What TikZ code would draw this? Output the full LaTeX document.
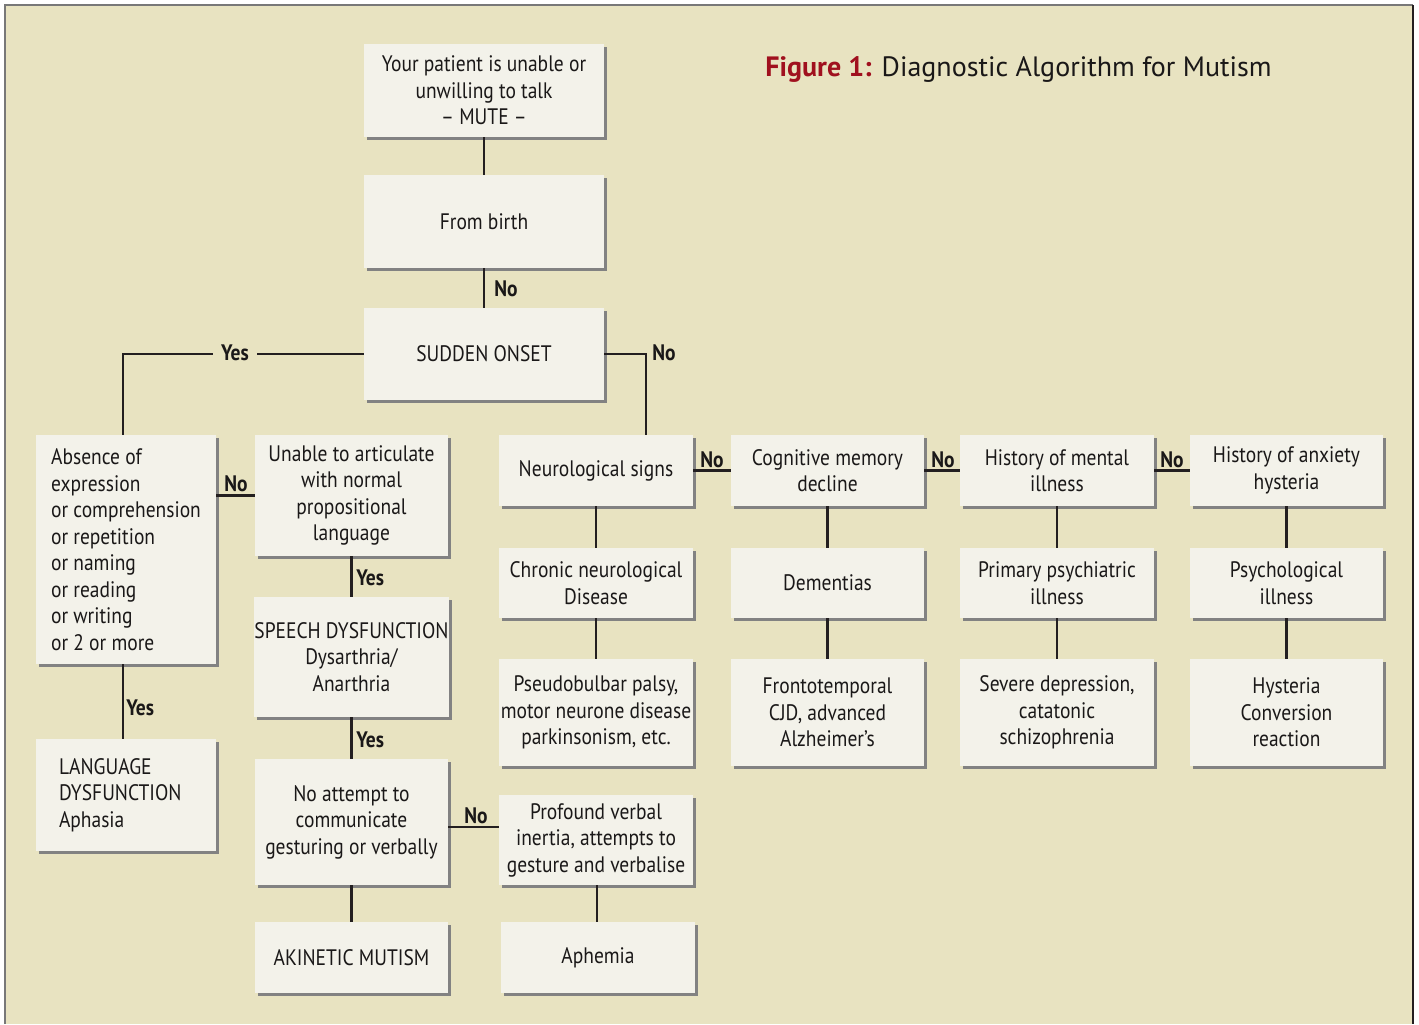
\documentclass[tikz,border=0pt]{standalone}
\usepackage{fontspec}
\setmainfont{PT Sans}[FakeStretch=0.87]
\newfontfamily\titlefont{PT Sans}
\usetikzlibrary{shadows,calc}
\definecolor{bgc}{RGB}{232,227,193}
\definecolor{boxc}{RGB}{243,242,234}
\definecolor{shc}{RGB}{130,130,130}
\definecolor{lnc}{RGB}{35,31,32}
\definecolor{txc}{RGB}{26,24,24}
\definecolor{titred}{RGB}{160,16,30}
\definecolor{framec}{RGB}{120,120,120}
\newcommand\bx[7][]{%
  \node[boxst, minimum width={(#5-#3)*0.5pt}, minimum height={(#6-#4)*0.5pt}, #1]
    (#2) at ({(#3+#5)/2},{(#4+#6)/2}) {#7};}
\tikzset{
  boxst/.style={fill=boxc, inner sep=0pt, align=center, text=txc,
    font=\fontsize{11.2}{13.25}\selectfont,
    drop shadow={shadow xshift=1.5pt, shadow yshift=-1.5pt, fill=shc, opacity=1}},
  ln/.style={draw=lnc, line width=1.45pt},
  lab/.style={font=\bfseries\fontsize{11.2}{13}\selectfont, text=txc, inner sep=1pt},
}
\begin{document}
\begin{tikzpicture}[x=0.5pt,y=-0.5pt]
\useasboundingbox (0,0) rectangle (1419,1024);
\fill[white] (0,0) rectangle (1419,1024);
\fill[bgc] (5,5) rectangle (1413,1024);
\draw[framec, line width=1pt] (5,1024) -- (5,5) -- (1413,5);
\draw[lnc, line width=1.2pt] (1413,5) -- (1413,1024);

\node[anchor=west, text=txc, inner sep=0pt, font=\titlefont\fontsize{14}{16}\selectfont] (title) at (765,69)
  {\textcolor{titred}{\textbf{Figure 1:}} Diagnostic Algorithm for Mutism};

\bx{mute}{364}{44}{604}{137}{Your patient is unable or\\unwilling to talk\\– MUTE –}
\bx{birth}{364}{175}{604}{268}{From birth}
\bx{sud}{364}{308}{604}{400}{SUDDEN ONSET}
\bx[align=left]{abs}{36}{435}{216}{664}{Absence of\\expression\\or comprehension\\or repetition\\or naming\\or reading\\or writing\\or 2 or more}
\bx{una}{255}{435}{448}{556}{Unable to articulate\\with normal\\propositional\\language}
\bx{spe}{255}{597}{448}{717}{SPEECH DYSFUNCTION\\Dysarthria/\\Anarthria}
\bx{noa}{255}{759}{448}{885}{No attempt to\\communicate\\gesturing or verbally}
\bx{aki}{255}{922}{448}{993}{AKINETIC MUTISM}
\bx[align=left, text width=67pt, inner xsep=11.5pt]{lan}{36}{739}{216}{851}{LANGUAGE\\DYSFUNCTION\\Aphasia}
\bx{neu}{499}{435}{693}{506}{Neurological signs}
\bx{chr}{499}{548}{693}{618}{Chronic neurological\\Disease}
\bx{pse}{499}{659}{693}{766}{Pseudobulbar palsy,\\motor neurone disease\\parkinsonism, etc.}
\bx{pro}{499}{795}{693}{885}{Profound verbal\\inertia, attempts to\\gesture and verbalise}
\bx{aph}{501}{922}{695}{993}{Aphemia}
\bx{cog}{731}{435}{924}{506}{Cognitive memory\\decline}
\bx{dem}{731}{548}{924}{618}{Dementias}
\bx{fro}{731}{659}{924}{766}{Frontotemporal\\CJD, advanced\\Alzheimer’s}
\bx{men}{960}{435}{1154}{506}{History of mental\\illness}
\bx{pri}{960}{548}{1154}{618}{Primary psychiatric\\illness}
\bx{sev}{960}{659}{1154}{766}{Severe depression,\\catatonic\\schizophrenia}
\bx{anx}{1190}{435}{1383}{506}{History of anxiety\\hysteria}
\bx{psy}{1190}{548}{1383}{618}{Psychological\\illness}
\bx{hys}{1190}{659}{1383}{766}{Hysteria\\Conversion\\reaction}

% connectors
\draw[ln] (mute) -- (birth);
\draw[ln] (birth) -- (sud);
\draw[ln] (sud.west) -| ([xshift=-1.5pt]abs.north);
\draw[ln] (sud.east) -| ([xshift=25pt]neu.north);
\draw[ln] (abs.east |- una.west) -- (una.west);
\draw[ln] (una) -- (spe);
\draw[ln] (spe) -- (noa);
\draw[ln] (noa) -- (aki);
\draw[ln] ([yshift=-2.5pt]noa.east) -- ([yshift=-2.5pt]noa.east -| pro.west);
\draw[ln] ([xshift=-1.5pt]abs.south) -- ([xshift=-1.5pt]abs.south |- lan.north);
\draw[ln] (neu) -- (cog);
\draw[ln] (cog) -- (men);
\draw[ln] (men) -- (anx);
\draw[ln] (neu) -- (chr);
\draw[ln] (chr) -- (pse);
\draw[ln] (cog) -- (dem);
\draw[ln] (dem) -- (fro);
\draw[ln] (men) -- (pri);
\draw[ln] (pri) -- (sev);
\draw[ln] (anx) -- (psy);
\draw[ln] (psy) -- (hys);
\draw[ln] ([xshift=0.5pt]pro.south) -- ([xshift=0.5pt]pro.south |- aph.north);

% labels
\node[lab, anchor=west] (l1) at (492,289) {No};
\node[lab, fill=bgc, inner xsep=4pt] (l2) at (235,353) {Yes};
\node[lab, anchor=west] (l3) at (650,353) {No};
\node[lab] (l4) at (236,484) {No};
\node[lab, anchor=west] (l5) at (354,578) {Yes};
\node[lab, anchor=west] (l6) at (354,740) {Yes};
\node[lab] (l7) at (476,816) {No};
\node[lab, anchor=west] (l8) at (124,708) {Yes};
\node[lab] (l9) at (712,460) {No};
\node[lab] (l10) at (943,460) {No};
\node[lab] (l11) at (1172,460) {No};
\end{tikzpicture}
\end{document}
